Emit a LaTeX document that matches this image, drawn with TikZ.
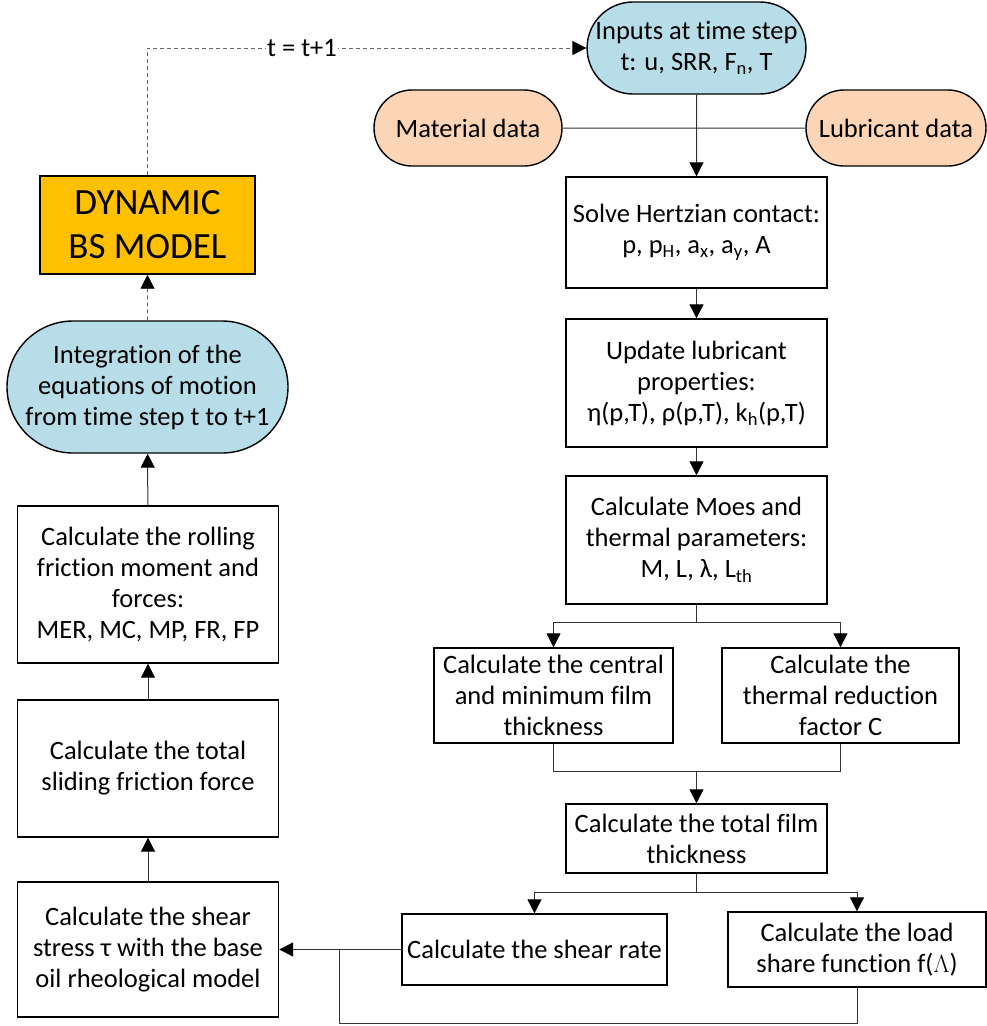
\documentclass[tikz,border=0pt]{standalone}
\usepackage{fontspec}
\setmainfont{Carlito}[Ligatures=NoCommon]
\usepackage{tikz}
\usetikzlibrary{arrows.meta,shapes.misc}
\definecolor{inblue}{HTML}{B7DDE8}
\definecolor{datapeach}{HTML}{FBD5B5}
\definecolor{modelgold}{HTML}{FFC000}

\begin{document}
\begin{tikzpicture}[x=1pt, y=-1pt, >={Triangle[length=14pt,width=14pt,color=black]},
  every node/.style={font=\fontsize{26.5}{31}\selectfont, align=center, inner sep=0pt},
  box/.style={draw, line width=1.4pt, minimum width=261pt},
  term/.style={draw, line width=1.4pt, rounded rectangle},
  link/.style={black!80, line width=1pt},
  loopback/.style={black!60, line width=0.9pt, dash pattern=on 4pt off 3pt}]
  \useasboundingbox (0,0) rectangle (987,1026);
  % right column
  \node[term, fill=inblue, minimum width=217pt, minimum height=92pt] (inp) at (696.5,48) {Inputs at time step\\t: u, SRR, F\textsubscript{n}, T};
  \node[term, fill=datapeach, minimum width=188pt, minimum height=76pt] (mat) at (468,128) {Material data};
  \node[term, fill=datapeach, minimum width=180pt, minimum height=76pt] (lub) at (896,128) {Lubricant data};
  \node[box, minimum height=111pt] (hz) at (696.5,232.5) {Solve Hertzian contact:\\p, p\textsubscript{H}, a\textsubscript{x}, a\textsubscript{y}, A};
  \node[box, minimum height=128pt] (lubp) at (696.5,383) {Update lubricant\\properties:\\η(p,T), ρ(p,T), k\textsubscript{h}(p,T)};
  \node[box, minimum height=128pt] (moes) at (696.5,540) {Calculate Moes and\\thermal parameters:\\M, L, λ, L\textsubscript{th}};
  \node[box, minimum width=239pt, minimum height=95pt] (cen) at (553.5,695.5) {Calculate the central\\and minimum film\\thickness};
  \node[box, minimum width=237pt, minimum height=95pt] (thr) at (840.5,695.5) {Calculate the\\thermal reduction\\factor C};
  \node[box, minimum height=69pt] (tot) at (696.5,838.5) {Calculate the total film\\thickness};
  \node[box, minimum width=265pt, minimum height=71pt] (srt) at (534.5,949.5) {Calculate the shear rate};
  \node[box, minimum width=258pt, minimum height=75pt] (lsh) at (857,949.5) {Calculate the load\\share function f($\Lambda$)};
  % left column
  \node[box, minimum height=135pt] (sst) at (148,949.5) {Calculate the shear\\stress τ with the base\\oil rheological model};
  \node[box, minimum height=137pt] (sld) at (148,768.5) {Calculate the total\\sliding friction force};
  \node[box, minimum height=157pt] (rol) at (148,584.5) {Calculate the rolling\\friction moment and\\forces:\\MER, MC, MP, FR, FP};
  \node[term, fill=inblue, minimum width=281pt, minimum height=132pt] (intg) at (147.5,387) {Integration of the\\equations of motion\\from time step t to t+1};
  \node[box, fill=modelgold, minimum width=215pt, minimum height=98pt, font=\fontsize{37}{44}\selectfont] (dyn) at (147.5,225) {DYNAMIC\\BS MODEL};
  % junction points
  \coordinate (b1) at (696.5,622);
  \coordinate (m1) at (696.5,771);
  \coordinate (b2) at (696.5,892);
  \coordinate (j1) at (339,949.5);
  \coordinate (j2) at (339,1023);
  % connectors
  \draw[link] (mat) -- (lub);
  \draw[link,->] (inp) -- (hz);
  \draw[link,->] (hz) -- (lubp);
  \draw[link,->] (lubp) -- (moes);
  \draw[link] (moes) -- (b1);
  \draw[link,->] (b1) -| (cen);
  \draw[link,->] (b1) -| (thr);
  \draw[link] (cen.south) |- (m1);
  \draw[link] (thr.south) |- (m1);
  \draw[link,->] (m1) -- (tot);
  \draw[link] (tot) -- (b2);
  \draw[link,->] (b2) -| (srt);
  \draw[link,->] (b2) -| (lsh);
  \draw[link,->, line width=1.3pt] (srt) -- (sst);
  \draw[link] (lsh.south) |- (j2) -- (j1);
  \draw[link,->] (sst) -- (sld);
  \draw[link,->] (sld) -- (rol);
  \draw[link,->] (rol) -- (intg);
  \draw[loopback,->] (intg) -- (dyn);
  \draw[loopback,->] (dyn.north) |- (inp.west) node[pos=0.676, fill=white, inner xsep=1pt, text=black] {t = t+1};
\end{tikzpicture}
\end{document}
